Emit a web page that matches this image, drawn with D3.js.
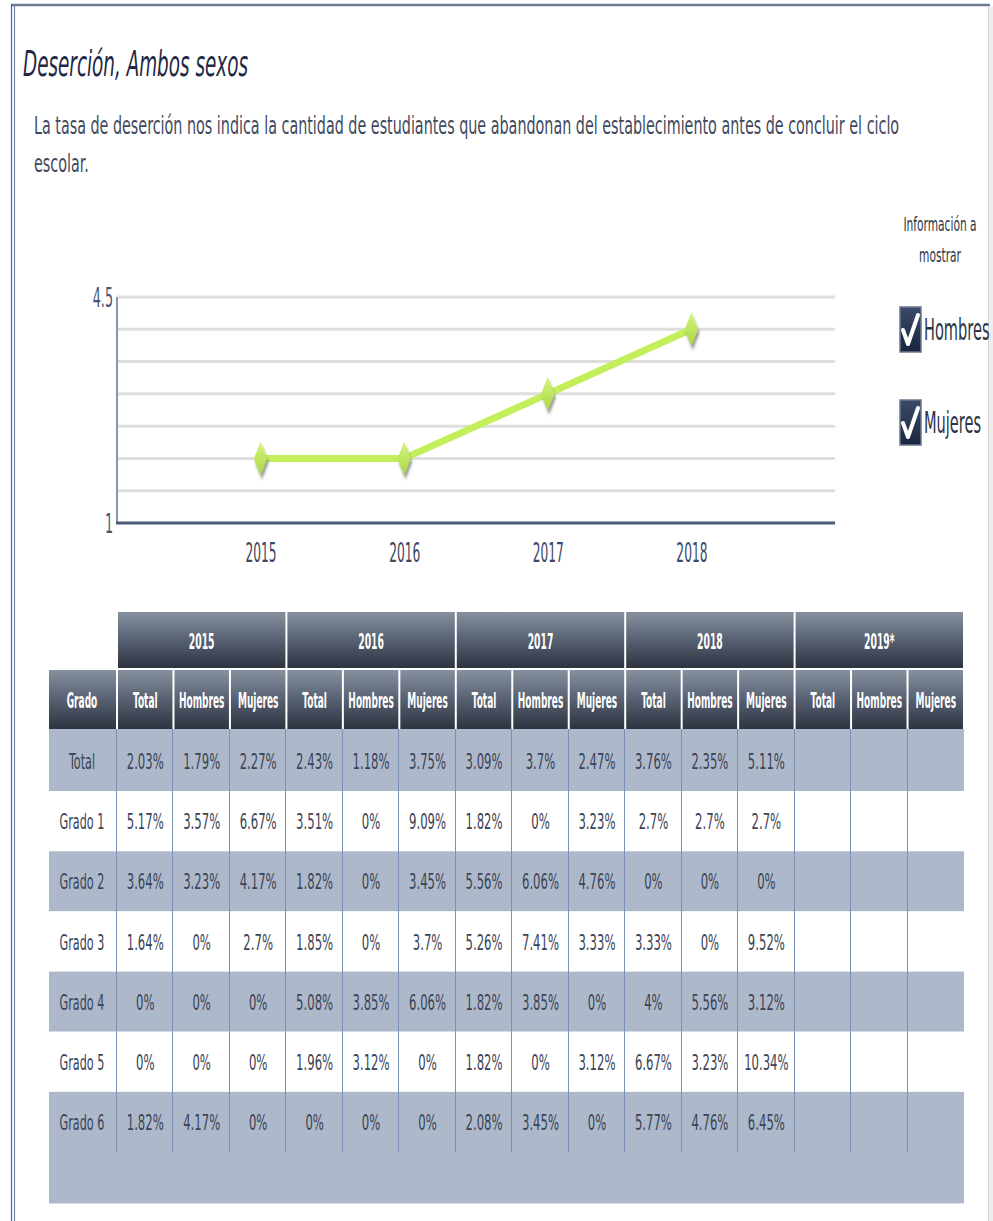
<!DOCTYPE html>
<html>
<head>
<meta charset="utf-8">
<script src="https://cdn.jsdelivr.net/npm/d3@7"></script>
<style>
body { margin: 0; background: #fff; }
svg text { font-family: "DejaVu Sans", Verdana, sans-serif; }
</style>
</head>
<body>
<svg id="page" width="993" height="1221"></svg>
<script>
/*
Data
*/
var chartYears = ["2015", "2016", "2017", "2018"];
var chartValues = [2, 2, 3, 4];
var yTickValues = [1, 4.5];

var tableYears = ["2015", "2016", "2017", "2018", "2019*"];
var subHeads = ["Total", "Hombres", "Mujeres"];
var grades = ["Total", "Grado 1", "Grado 2", "Grado 3", "Grado 4", "Grado 5", "Grado 6"];

var rowTotal  = ["2.03%", "1.79%", "2.27%", "2.43%", "1.18%", "3.75%", "3.09%", "3.7%", "2.47%", "3.76%", "2.35%", "5.11%"];
var rowGrado1 = ["5.17%", "3.57%", "6.67%", "3.51%", "0%", "9.09%", "1.82%", "0%", "3.23%", "2.7%", "2.7%", "2.7%"];
var rowGrado2 = ["3.64%", "3.23%", "4.17%", "1.82%", "0%", "3.45%", "5.56%", "6.06%", "4.76%", "0%", "0%", "0%"];
var rowGrado3 = ["1.64%", "0%", "2.7%", "1.85%", "0%", "3.7%", "5.26%", "7.41%", "3.33%", "3.33%", "0%", "9.52%"];
var rowGrado4 = ["0%", "0%", "0%", "5.08%", "3.85%", "6.06%", "1.82%", "3.85%", "0%", "4%", "5.56%", "3.12%"];
var rowGrado5 = ["0%", "0%", "0%", "1.96%", "3.12%", "0%", "1.82%", "0%", "3.12%", "6.67%", "3.23%", "10.34%"];
var rowGrado6 = ["1.82%", "4.17%", "0%", "0%", "0%", "0%", "2.08%", "3.45%", "0%", "5.77%", "4.76%", "6.45%"];
var tableRows = [rowTotal, rowGrado1, rowGrado2, rowGrado3, rowGrado4, rowGrado5, rowGrado6];

/*
Helpers
*/
var svg = d3.select("#page");

// squeezed text, the original font is very narrow
function label(g, x, y, s, size, sx, opts){
  opts = opts || {};
  return g.append("text")
          .attr("transform", "translate(" + x + "," + y + ") scale(" + sx + ",1)")
          .attr("text-anchor", opts.anchor || "middle")
          .style("font-size", size + "px")
          .style("font-weight", opts.bold ? "bold" : "normal")
          .style("font-style", opts.italic ? "italic" : "normal")
          .style("fill", opts.color || "#3b4356")
          .text(s);
}

var defs = svg.append("defs");

var headGrad = defs.append("linearGradient").attr("id", "headGrad")
                   .attr("x1", 0).attr("y1", 0).attr("x2", 0).attr("y2", 1);
headGrad.append("stop").attr("offset", "0%").attr("stop-color", "#87909f");
headGrad.append("stop").attr("offset", "55%").attr("stop-color", "#535c6c");
headGrad.append("stop").attr("offset", "100%").attr("stop-color", "#2c3341");

var diaGrad = defs.append("linearGradient").attr("id", "diaGrad")
                  .attr("x1", 0).attr("y1", 0).attr("x2", 0).attr("y2", 1);
diaGrad.append("stop").attr("offset", "0%").attr("stop-color", "#d4f77e");
diaGrad.append("stop").attr("offset", "100%").attr("stop-color", "#a9d544");

var boxGrad = defs.append("linearGradient").attr("id", "boxGrad")
                  .attr("x1", 0).attr("y1", 0).attr("x2", 0).attr("y2", 1);
boxGrad.append("stop").attr("offset", "0%").attr("stop-color", "#3a4a68");
boxGrad.append("stop").attr("offset", "100%").attr("stop-color", "#1b2640");

var shadow = defs.append("filter").attr("id", "shadow")
                 .attr("x", "-100%").attr("y", "-50%").attr("width", "300%").attr("height", "200%");
shadow.append("feDropShadow").attr("dx", 2).attr("dy", 4).attr("stdDeviation", 1.5)
      .attr("flood-color", "#555").attr("flood-opacity", 0.6);

/*
Frame
*/
svg.append("line").attr("x1", 11).attr("x2", 990).attr("y1", 5).attr("y2", 5)
   .style("stroke", "#6d7a90").style("stroke-width", 2.5);
svg.append("line").attr("x1", 11.5).attr("x2", 11.5).attr("y1", 4).attr("y2", 1221)
   .style("stroke", "#4f6a9a").style("stroke-width", 1.2);
svg.append("line").attr("x1", 14.5).attr("x2", 14.5).attr("y1", 4).attr("y2", 1221)
   .style("stroke", "#6f84aa").style("stroke-width", 1.2);
svg.append("rect").attr("x", 988).attr("y", 6).attr("width", 5).attr("height", 1215)
   .style("fill", "#efefef");
svg.append("line").attr("x1", 988.5).attr("x2", 988.5).attr("y1", 6).attr("y2", 1221)
   .style("stroke", "#d2d2d2");

/*
Title and description
*/
svg.append("text").attr("x", 23).attr("y", 76)
   .attr("textLength", 225).attr("lengthAdjust", "spacingAndGlyphs")
   .style("font-size", "35px").style("font-style", "italic")
   .style("fill", "#1e2945").text("Deserción, Ambos sexos");

var desc1 = svg.append("text").attr("x", 34).attr("y", 134)
   .style("font-size", "25px").style("fill", "#3f4a5e")
   .text("La tasa de deserción nos indica la cantidad de estudiantes que abandonan del establecimiento antes de concluir el ciclo");
var descScale = 866 / desc1.node().getComputedTextLength();
desc1.attr("transform", "translate(34,0) scale(" + descScale + ",1) translate(-34,0)");
label(svg, 34, 172, "escolar.", 25, descScale, {anchor: "start", color: "#3f4a5e"});

/*
Legend
*/
label(svg, 940, 231, "Información a", 19, 0.56, {color: "#2c3548"});
label(svg, 940, 262, "mostrar", 19, 0.56, {color: "#2c3548"});

var legendItems = ["Hombres", "Mujeres"];
var legendY = d3.scalePoint().domain(legendItems).range([329, 422]);
var legend = svg.append("g").selectAll("g").data(legendItems).enter().append("g")
                .attr("transform", function(d){ return "translate(900," + legendY(d) + ")"; });
legend.append("rect").attr("x", 0).attr("y", -22).attr("width", 21).attr("height", 45)
      .style("fill", "url(#boxGrad)").style("stroke", "#6b7890").style("stroke-width", 1.5);
legend.append("path").attr("d", "M3,1 L8,15 L18,-14")
      .style("fill", "none").style("stroke", "#fff").style("stroke-width", 4)
      .style("stroke-linecap", "round").style("stroke-linejoin", "round");
legend.each(function(d){
  label(d3.select(this), 24, 11, d, 31, 0.47, {anchor: "start", color: "#2c3548"});
});

/*
Line chart
*/
var x = d3.scalePoint().domain(chartYears).range([117, 835]).padding(1);
var y = d3.scaleLinear().domain([1, 4.5]).range([523, 297]);

var chart = svg.append("g");

chart.selectAll(".grid").data(y.ticks(7).filter(function(d){ return d > 1; }))
     .enter().append("line")
     .attr("x1", 117).attr("x2", 835)
     .attr("y1", function(d){ return y(d); }).attr("y2", function(d){ return y(d); })
     .style("stroke", "#dedede").style("stroke-width", 3);

chart.append("line").attr("x1", 117).attr("x2", 117).attr("y1", y(4.5)).attr("y2", y(1))
     .style("stroke", "#8595ad").style("stroke-width", 2);
chart.append("line").attr("x1", 116).attr("x2", 835).attr("y1", y(1)).attr("y2", y(1))
     .style("stroke", "#4a5b7a").style("stroke-width", 3);

var yAxis = chart.append("g").attr("transform", "translate(113,0)")
                 .call(d3.axisLeft(y).tickValues(yTickValues).tickSize(0).tickPadding(0)
                         .tickFormat(d3.format("")));
yAxis.select(".domain").remove();
yAxis.selectAll("text").attr("x", 0).attr("dy", "0.36em")
     .attr("transform", "scale(0.49,1)")
     .style("font-size", "26px").style("font-family", "DejaVu Sans").style("fill", "#4a5672");

var xAxis = chart.append("g").attr("transform", "translate(0," + y(1) + ")")
                 .call(d3.axisBottom(x).tickSize(0).tickPadding(0));
xAxis.select(".domain").remove();
xAxis.selectAll("text").attr("y", 39).attr("dy", 0)
     .attr("transform", "scale(0.47,1)")
     .style("font-size", "26px").style("font-family", "DejaVu Sans").style("fill", "#3e4866");

var pts = chartYears.map(function(d, i){ return [x(d), y(chartValues[i])]; });

chart.append("path").datum(pts)
     .attr("d", d3.line())
     .style("fill", "none").style("stroke", "#c4ef5c").style("stroke-width", 7)
     .style("stroke-linejoin", "round");

var diamond = d3.symbol().type(d3.symbolDiamond).size(334);
chart.selectAll(".dot").data(pts).enter().append("path")
     .attr("d", diamond)
     .attr("transform", function(d){ return "translate(" + d[0] + "," + d[1] + ") scale(0.68,1)"; })
     .style("fill", "url(#diaGrad)")
     .attr("filter", "url(#shadow)");

/*
Table
*/
var table = svg.append("g");
var colX = d3.scaleBand().domain(d3.range(15)).range([117, 964]);
var cw = colX.bandwidth();
var rowY = d3.scaleBand().domain(grades).range([731, 1152]);
var rh = rowY.bandwidth();

// body background
table.selectAll(".row").data(grades).enter().append("rect")
     .attr("x", 49).attr("width", 915)
     .attr("y", function(d, i){ return i == 0 ? 729 : rowY(d); })
     .attr("height", function(d, i){ return i == 0 ? rh + 2 : rh; })
     .style("fill", function(d, i){ return i % 2 == 0 ? "#adb9cb" : "#ffffff"; });
table.append("rect").attr("x", 49).attr("width", 915).attr("y", 1152).attr("height", 51)
     .style("fill", "#adb9cb");
table.append("line").attr("x1", 49).attr("x2", 964).attr("y1", 1203.5).attr("y2", 1203.5)
     .style("stroke", "#d8dde6");

// vertical cell lines
table.selectAll(".vline").data(d3.range(15)).enter().append("line")
     .attr("x1", function(d){ return Math.round(colX(d)) - 0.5; })
     .attr("x2", function(d){ return Math.round(colX(d)) - 0.5; })
     .attr("y1", 729).attr("y2", 1152)
     .style("stroke", "#7b91b6").style("stroke-width", 1);

// header row 1 (years)
var yearW = cw * 3;
tableYears.forEach(function(yr, i){
  var x0 = colX(i * 3);
  table.append("rect").attr("x", x0 + 1).attr("y", 612).attr("width", yearW - 2).attr("height", 56)
       .style("fill", "url(#headGrad)");
  label(table, x0 + yearW / 2, 649, yr, 22, 0.42, {bold: true, color: "#ffffff"});
});

// header row 2
table.append("rect").attr("x", 49).attr("y", 670).attr("width", 67).attr("height", 59)
     .style("fill", "url(#headGrad)");
label(table, 82, 708, "Grado", 22, 0.41, {bold: true, color: "#ffffff"});
d3.range(15).forEach(function(c){
  table.append("rect").attr("x", colX(c) + 1).attr("y", 670).attr("width", cw - 2).attr("height", 59)
       .style("fill", "url(#headGrad)");
  label(table, colX(c) + cw / 2, 708, subHeads[c % 3], 22, 0.41, {bold: true, color: "#ffffff"});
});

// body text
grades.forEach(function(g, r){
  var cy = rowY(g) + rh / 2 + 8;
  label(table, 82, cy, g, 22, 0.51, {color: "#3b4356"});
  tableRows[r].forEach(function(v, c){
    label(table, colX(c) + cw / 2, cy, v, 22, 0.53, {color: "#3b4356"});
  });
});
</script>
</body>
</html>
